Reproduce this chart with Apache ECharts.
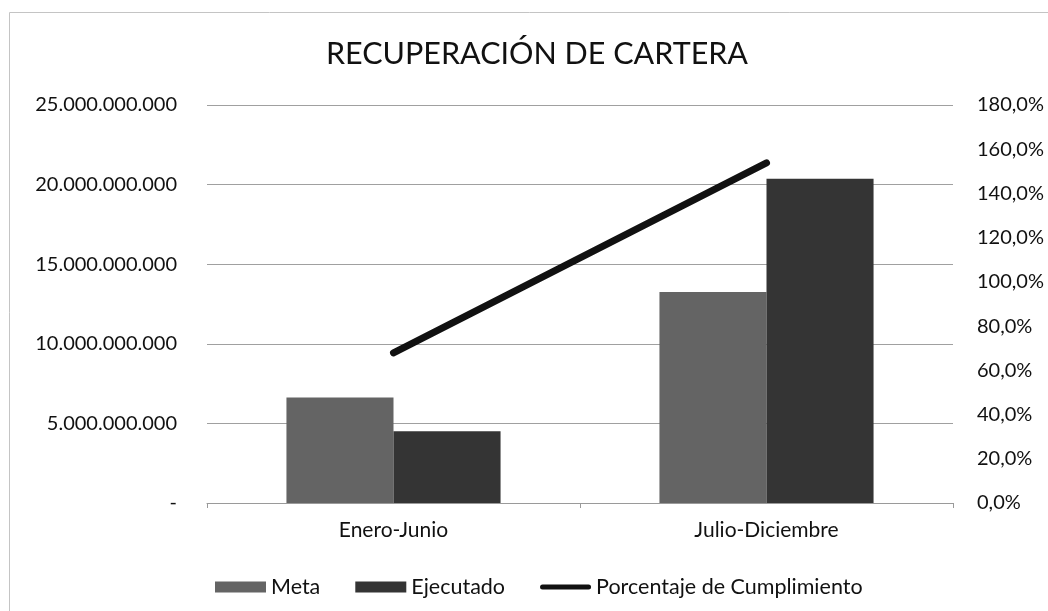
<!DOCTYPE html>
<html>
<head>
<meta charset="utf-8">
<script src="https://cdn.jsdelivr.net/npm/echarts@6/dist/echarts.min.js"></script>
<style>
html,body{margin:0;padding:0;background:#fff;}
#c{width:1048px;height:611px;}
</style>
</head>
<body>
<div id="c"></div>
<script>
const titleText = 'RECUPERACIÓN DE CARTERA';
const categories = ['Enero-Junio', 'Julio-Diciembre'];
const meta = [6625000000, 13250000000];
const ejecutado = [4500000000, 20375000000];
const cumplimiento = [0.679, 1.538];
const seriesNames = ['Meta', 'Ejecutado', 'Porcentaje de Cumplimiento'];

const FONT = 'Lato';
function fmtMoney(v) {
  if (v === 0) return '-';
  return String(Math.round(v)).replace(/\B(?=(\d{3})+(?!\d))/g, '.');
}
function fmtPct(v) {
  return (v * 100).toFixed(1).replace('.', ',') + '%';
}

const chart = echarts.init(document.getElementById('c'), null, {renderer: 'canvas'});
chart.setOption({
  backgroundColor: '#ffffff',
  animation: false,
  textStyle: {fontFamily: FONT, color: '#1a1a1a'},
  graphic: [{
    type: 'rect', left: 7, top: 10,
    shape: {width: 1060, height: 620},
    style: {fill: 'none', stroke: '#c4c4c4', lineWidth: 1},
    silent: true
  }],
  title: {
    text: titleText,
    left: 321,
    top: 34,
    textStyle: {fontFamily: FONT, fontSize: 30.5, fontWeight: 'normal', color: '#111'}
  },
  legend: {
    left: 215,
    top: 576,
    padding: 0,
    itemWidth: 51,
    itemHeight: 11,
    itemGap: 35,
    textStyle: {fontFamily: FONT, fontSize: 21.5, color: '#111'},
    data: [
      {name: seriesNames[0], icon: 'rect'},
      {name: seriesNames[1], icon: 'rect'},
      {name: seriesNames[2], icon: 'path://M0,0 L0,0 M2.5,3 L48.5,3 A2.5,2.5 0 0 1 48.5,8 L2.5,8 A2.5,2.5 0 0 1 2.5,3 Z M51,11 L51,11', itemStyle: {color: '#111111'}}
    ]
  },
  grid: {left: 207, right: 95, top: 105, bottom: 108},
  xAxis: {
    type: 'category',
    data: categories,
    axisLine: {show: true, lineStyle: {color: '#9a9a9a', width: 1}},
    axisTick: {show: true, length: 5, lineStyle: {color: '#9a9a9a'}},
    axisLabel: {fontFamily: FONT, fontSize: 21, color: '#111', margin: 17}
  },
  yAxis: [{
    type: 'value',
    min: 0, max: 25000000000, interval: 5000000000,
    axisLine: {show: false},
    axisTick: {show: false},
    splitLine: {show: true, lineStyle: {color: '#a0a0a0', width: 1}},
    axisLabel: {fontFamily: FONT, fontSize: 20, color: '#111', margin: 30, formatter: fmtMoney}
  }, {
    type: 'value',
    min: 0, max: 1.8, interval: 0.2,
    axisLine: {show: false},
    axisTick: {show: false},
    splitLine: {show: false},
    axisLabel: {fontFamily: FONT, fontSize: 20, color: '#111', margin: 24, formatter: fmtPct}
  }],
  series: [{
    name: seriesNames[0],
    type: 'bar',
    data: meta,
    barGap: '0%',
    barCategoryGap: '42.6%',
    itemStyle: {color: '#646464'}
  }, {
    name: seriesNames[1],
    type: 'bar',
    data: ejecutado,
    itemStyle: {color: '#343434'}
  }, {
    name: seriesNames[2],
    type: 'line',
    yAxisIndex: 1,
    data: cumplimiento,
    symbol: 'none',
    lineStyle: {color: '#111111', width: 7, cap: 'round'},
    itemStyle: {color: '#111111'}
  }]
});
</script>
</body>
</html>
